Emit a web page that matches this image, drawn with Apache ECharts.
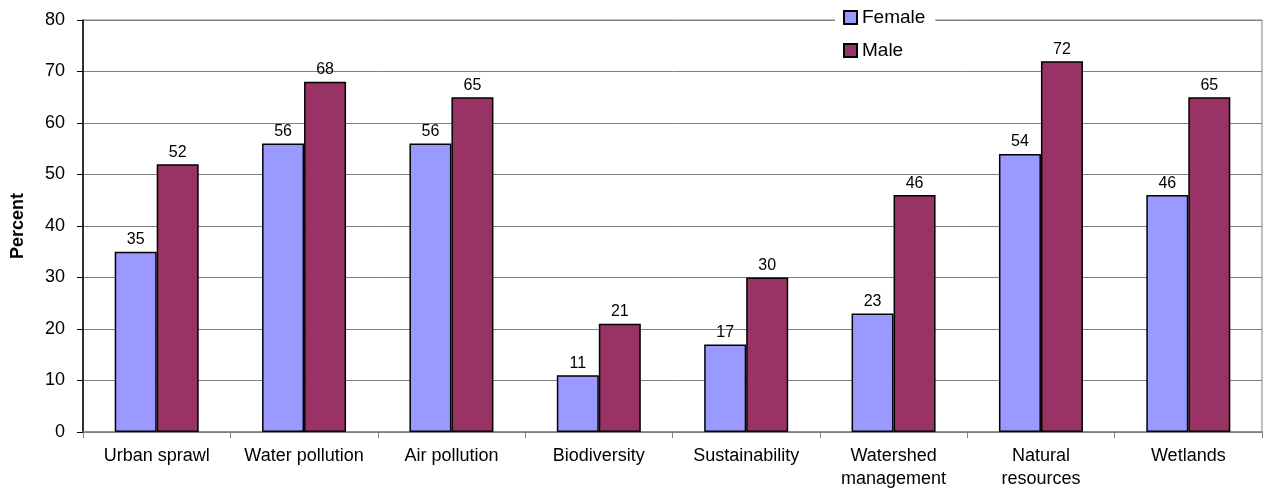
<!DOCTYPE html>
<html>
<head>
<meta charset="utf-8">
<script src="https://cdn.jsdelivr.net/npm/echarts@6/dist/echarts.min.js"></script>
<style>
  html, body { margin: 0; padding: 0; background: #fff; }
  #chart { width: 1263px; height: 500px; }
</style>
</head>
<body>
<div id="chart"></div>
<script>
const categories = ['Urban sprawl', 'Water pollution', 'Air pollution', 'Biodiversity',
  'Sustainability', 'Watershed\nmanagement', 'Natural\nresources', 'Wetlands'];
const female = [35, 56, 56, 11, 17, 23, 54, 46];
const male = [52, 68, 65, 21, 30, 46, 72, 65];

const chart = echarts.init(document.getElementById('chart'), null, { renderer: 'canvas' });

const labelStyle = {
  show: true,
  position: 'top',
  distance: 4,
  color: '#000',
  fontFamily: 'Liberation Sans',
  fontSize: 16,
};

chart.setOption({
  animation: false,
  backgroundColor: '#FFFFFF',
  textStyle: { fontFamily: 'Liberation Sans' },
  grid: {
    left: 83, right: 1, top: 20, bottom: 68,
    show: true, borderColor: '#808080', borderWidth: 1,
  },
  legend: {
    orient: 'vertical',
    left: 835,
    top: 5,
    padding: [3, 10, 3, 8],
    itemGap: 14,
    itemWidth: 13,
    itemHeight: 13,
    icon: 'rect',
    backgroundColor: '#FFFFFF',
    textStyle: { fontFamily: 'Liberation Sans', fontSize: 19, color: '#000' },
    data: ['Female', 'Male'],
  },
  xAxis: {
    type: 'category',
    data: categories,
    axisLine: { lineStyle: { color: '#808080', width: 1.5 } },
    axisTick: { show: true, length: 6, lineStyle: { color: '#808080' } },
    axisLabel: { color: '#000', fontSize: 18, margin: 13, lineHeight: 23, interval: 0 },
  },
  yAxis: {
    type: 'value',
    min: 0, max: 80, interval: 10,
    name: 'Percent',
    nameLocation: 'middle',
    nameGap: 56,
    nameTextStyle: { fontWeight: 'bold', fontSize: 18, color: '#000' },
    axisLine: { show: true, lineStyle: { color: '#000', width: 1.5 } },
    axisTick: { show: true, inside: false, length: 6, lineStyle: { color: '#000' } },
    axisLabel: { color: '#000', fontSize: 18, margin: 18 },
    splitLine: { lineStyle: { color: '#808080', width: 1 } },
  },
  series: [
    {
      name: 'Female', type: 'bar', data: female,
      barWidth: 42, barGap: '0%',
      itemStyle: { color: '#9999FF', borderColor: '#000', borderWidth: 1.5 },
      label: labelStyle,
    },
    {
      name: 'Male', type: 'bar', data: male,
      barWidth: 42,
      itemStyle: { color: '#993366', borderColor: '#000', borderWidth: 1.5 },
      label: labelStyle,
    },
  ],
});
</script>
</body>
</html>
